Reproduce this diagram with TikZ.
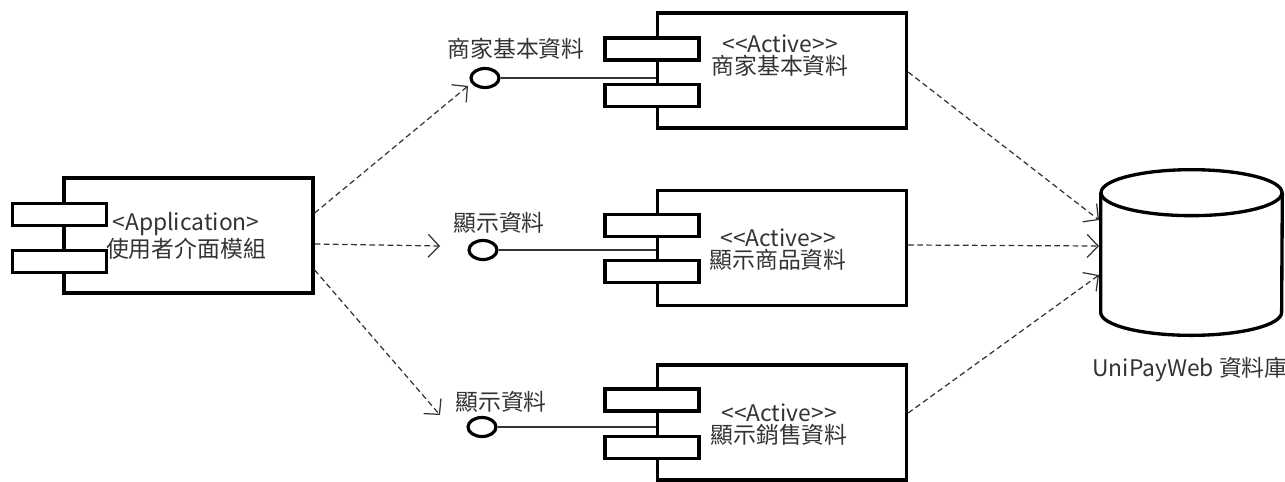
\documentclass[tikz,border=0pt]{standalone}
\usepackage{fontspec}
\newfontfamily\cjk{Noto Sans CJK TC}
\usetikzlibrary{shapes.geometric, arrows.meta, positioning, calc}

\begin{document}
\begin{tikzpicture}[x=0.02cm, y=-0.02cm,
  every node/.style={font=\cjk\fontsize{13}{12.5}\selectfont, text=black!80},
  comp/.style={draw, line width=1.9pt, minimum width=4.98cm, minimum height=2.3cm, inner sep=0pt},
  port/.style={draw, fill=white, line width=1.9pt, minimum width=1.88cm, minimum height=0.44cm, inner sep=0pt},
  iface/.style={ellipse, draw, line width=1.8pt, minimum width=0.56cm, minimum height=0.38cm, inner sep=0pt},
  dep/.style={dashed, dash pattern=on 3.2pt off 2pt, line width=0.7pt, black!80, -{Straight Barb[length=2.2mm, width=4.6mm]}},
  wire/.style={line width=0.7pt, black!80}]
\useasboundingbox (0,0) rectangle (1285,481);

% components
\node[comp] (app) at (188.5,235.5) {};
\node[port] (app1) at (59.5,214.5) {};
\node[port] (app2) at (59.5,261.5) {};
\node[align=center] (appname) at (186,236) {<Application>\\使用者介面模組};

\node[comp] (c1) at (782,70.5) {};
\node[port] (c1a) at (652,49) {};
\node[port] (c1b) at (652,95.5) {};
\node[align=center] (c1name) at (780,56) {<<Active>>\\商家基本資料};

\node[comp] (c2) at (782,248) {};
\node[port] (c2a) at (652,225.5) {};
\node[port] (c2b) at (652,271.5) {};
\node[align=center] (c2name) at (778,250) {<<Active>>\\顯示商品資料};

\node[comp] (c3) at (782,422.5) {};
\node[port] (c3a) at (652,400) {};
\node[port] (c3b) at (652,447.5) {};
\node[align=center] (c3name) at (779,425) {<<Active>>\\顯示銷售資料};

% interfaces
\node[iface] (i1) at (485,78) {};
\node[iface] (i2) at (483,250) {};
\node[iface] (i3) at (482,427) {};
\node (i1lab) at (516,49) {商家基本資料};
\node (i2lab) at (499,223) {顯示資料};
\node (i3lab) at (501,402) {顯示資料};
\draw[wire] (i1) -- (c1.west |- i1);
\draw[wire] (i2) -- (c2.west |- i2);
\draw[wire] (i3) -- (c3.west |- i3);

% database
\node[minimum width=3.62cm, minimum height=2.38cm, inner sep=0pt] (db) at (1191.5,252.5) {};
\draw[line width=1.9pt] (db.north west) -- (db.south west)
  arc[start angle=180, end angle=360, x radius=1.81cm, y radius=0.46cm] -- (db.north east);
\draw[line width=1.9pt] (db.north) ellipse[x radius=1.81cm, y radius=0.46cm];
\node (dblab) at (1190,370) {UniPayWeb 資料庫};

%connections
\coordinate (a1) at (468,86);
\coordinate (a2) at (440,246);
\coordinate (a3) at (440,415);
\coordinate (d1) at (1099,220);
\coordinate (d2) at (1099,246);
\coordinate (d3) at (1099,275);
\draw[dep] ([yshift=0.45cm]app.east) -- (a1);
\draw[dep] ([yshift=-0.17cm]app.east) -- (a2);
\draw[dep] ([yshift=-0.69cm]app.east) -- (a3);
\draw[dep] ([yshift=-0.03cm]c1.east) -- (d1);
\draw[dep] ([yshift=0.06cm]c2.east) -- (d2);
\draw[dep] ([yshift=0.19cm]c3.east) -- (d3);
\end{tikzpicture}
\end{document}
